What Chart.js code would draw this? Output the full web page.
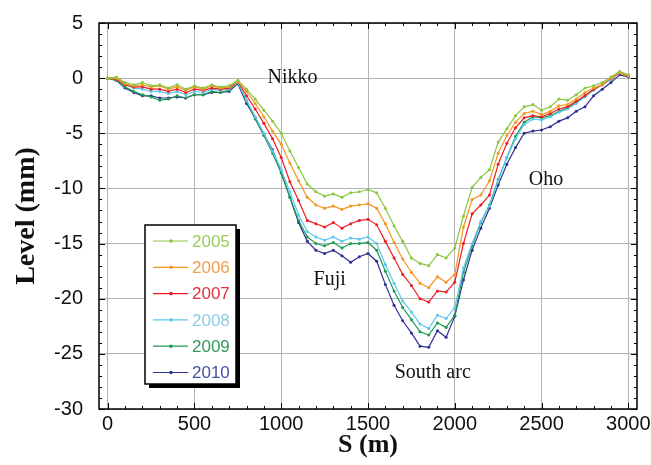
<!DOCTYPE html>
<html>
<head>
<meta charset="utf-8">
<script src="https://cdn.jsdelivr.net/npm/chart.js@4.4.1/dist/chart.umd.min.js"></script>
<style>
  body { margin: 0; background: #fff; }
  #wrap { width: 651px; height: 465px; }
</style>
</head>
<body>
<div id="wrap"><canvas id="levelChart" width="651" height="465"></canvas></div>
<script>
// distance along the ring (m)
const distances = [
  0, 50, 100, 150, 200, 250, 300, 350, 400, 450, 500, 550, 600, 650, 700, 750,
  800, 850, 900, 950, 1000, 1050, 1100, 1150, 1200, 1250, 1300, 1350, 1400, 1450, 1500,
  1550, 1600, 1650, 1700, 1750, 1800, 1850, 1900, 1950, 2000,
  2050, 2100, 2150, 2200, 2250, 2300, 2350, 2400, 2450, 2500, 2550, 2600, 2650, 2700,
  2750, 2800, 2850, 2900, 2950, 3000
];

const years = ["2005", "2006", "2007", "2008", "2009", "2010"];

// level (mm)
const level2005 = [
  0, 0.1, -0.4, -0.6, -0.4, -0.7, -0.6, -0.9, -0.6, -1.0, -0.7, -0.9, -0.6, -0.8, -0.7, -0.2,
  -1.0, -1.9, -2.9, -3.9, -5.0, -6.6, -8.1, -9.6, -10.3, -10.7, -10.5, -10.8, -10.4, -10.3, -10.1,
  -10.4, -11.8, -13.4, -14.8, -16.3, -16.8, -17.0, -16.0, -16.3, -15.4,
  -12.5, -9.9, -9.0, -8.3, -5.8, -4.6, -3.4, -2.6, -2.4, -2.9, -2.6, -1.9, -2.0, -1.5,
  -0.9, -0.7, -0.4, 0.1, 0.6, 0.3
];
const level2006 = [
  0, 0.0, -0.5, -0.7, -0.6, -0.8, -0.7, -1.0, -0.8, -1.1, -0.8, -1.0, -0.7, -0.9, -0.8, -0.3,
  -1.2, -2.3, -3.5, -4.8, -6.0, -7.7, -9.3, -10.8, -11.5, -11.8, -11.6, -11.9, -11.6, -11.5, -11.4,
  -11.8, -13.2, -14.9, -16.4, -17.6, -18.6, -19.0, -18.0, -18.5, -17.8,
  -13.5, -11.0, -10.6, -9.3, -6.8, -5.2, -4.0, -3.2, -3.0, -3.3, -3.0, -2.5, -2.4, -1.9,
  -1.3, -0.9, -0.6, 0.0, 0.5, 0.2
];
const level2007 = [
  0, -0.1, -0.6, -0.8, -0.8, -1.0, -1.0, -1.2, -1.0, -1.3, -1.0, -1.1, -0.9, -1.0, -0.9, -0.3,
  -1.6, -2.8, -4.1, -5.5, -7.2, -9.4, -11.1, -12.9, -13.2, -13.5, -13.1, -13.6, -13.2, -12.9, -12.8,
  -13.3, -14.8, -16.3, -17.8, -18.8, -20.0, -20.3, -19.3, -19.4, -18.5,
  -15.0, -12.3, -11.5, -10.6, -7.8, -5.9, -4.5, -3.6, -3.4, -3.5, -3.2, -2.8, -2.6, -2.1,
  -1.6, -1.0, -0.6, 0.0, 0.5, 0.2
];
const level2008 = [
  0, -0.1, -0.6, -0.9, -1.0, -1.2, -1.2, -1.4, -1.2, -1.5, -1.2, -1.3, -1.0, -1.1, -1.0, -0.4,
  -2.0, -3.5, -5.0, -6.6, -8.3, -10.3, -12.4, -13.9, -14.4, -14.7, -14.4, -14.8, -14.5, -14.6, -14.4,
  -15.0, -16.9, -18.6, -20.2, -21.2, -22.3, -22.7, -21.5, -21.8, -20.8,
  -17.2, -15.0, -13.0, -11.6, -9.3, -7.2, -5.5, -4.2, -3.7, -3.8, -3.5, -3.1, -2.8, -2.3,
  -1.7, -1.1, -0.6, -0.1, 0.5, 0.2
];
const level2009 = [
  0, -0.2, -0.8, -1.2, -1.5, -1.7, -2.0, -1.9, -1.6, -1.8, -1.5, -1.5, -1.2, -1.3, -1.1, -0.4,
  -2.1, -3.7, -5.2, -6.8, -8.6, -10.8, -12.9, -14.4, -15.0, -15.2, -14.9, -15.4, -15.0, -15.0, -14.9,
  -15.6, -17.5, -19.3, -20.8, -21.9, -23.0, -23.3, -22.2, -22.6, -21.5,
  -17.6, -15.2, -13.1, -11.5, -9.2, -7.2, -5.3, -4.0, -3.5, -3.6, -3.4, -3.0, -2.7, -2.2,
  -1.6, -1.0, -0.6, -0.1, 0.5, 0.2
];
const level2010 = [
  0, -0.2, -0.9, -1.3, -1.6, -1.6, -1.8, -1.8, -1.7, -1.8, -1.5, -1.5, -1.3, -1.3, -1.2, -0.5,
  -2.3, -3.6, -5.1, -6.5, -8.6, -10.8, -13.1, -14.8, -15.6, -15.9, -15.6, -16.1, -16.7, -16.2, -15.9,
  -16.6, -18.7, -20.6, -22.0, -23.1, -24.3, -24.4, -22.9, -23.5, -21.6,
  -18.3, -15.6, -13.6, -11.8, -9.7, -7.8, -6.3, -5.0, -4.8, -4.7, -4.4, -3.9, -3.6, -3.0,
  -2.6, -1.6, -1.0, -0.4, 0.3, 0.1
];

const xTicks = [0, 500, 1000, 1500, 2000, 2500, 3000];
const yTicks = [5, 0, -5, -10, -15, -20, -25, -30];

const places = ["Nikko", "Fuji", "South arc", "Oho"];
const placeS = [1065, 1279, 1873, 2526];
const placeLevel = [0, -18.3, -26.7, -9.2];

const seriesLevels = [level2005, level2006, level2007, level2008, level2009, level2010];
const lineColors = ["#8cc63f", "#f7941d", "#ed1c24", "#5bc8f0", "#1b9a50", "#2e3192"];
const textColors = ["#9acb5c", "#eea04e", "#e0303c", "#8ccde6", "#2f9a5c", "#4450a2"];

const datasets = years.map((yr, i) => ({
  label: yr,
  data: distances.map((s, j) => ({ x: s, y: seriesLevels[i][j] })),
  borderColor: lineColors[i],
  backgroundColor: lineColors[i],
  borderWidth: 1.2,
  pointRadius: 1.5,
  pointBorderWidth: 0,
  pointBackgroundColor: lineColors[i],
  tension: 0,
}));

// frame and inward ticks on all four sides
const framePlugin = {
  id: "frame",
  afterDraw(chart) {
    const { ctx, chartArea: a, scales } = chart;
    ctx.save();
    ctx.strokeStyle = "#000";
    ctx.lineWidth = 1;
    ctx.beginPath();
    for (let v = 0; v <= 3000; v += 100) {
      const px = Math.round(scales.x.getPixelForValue(v)) + 0.5;
      const len = v % 500 === 0 ? 6 : 3;
      ctx.moveTo(px, a.bottom); ctx.lineTo(px, a.bottom - len);
      ctx.moveTo(px, a.top); ctx.lineTo(px, a.top + len);
    }
    for (let v = -30; v <= 5; v += 1) {
      const py = Math.round(scales.y.getPixelForValue(v)) + 0.5;
      const len = v % 5 === 0 ? 6 : 3;
      ctx.moveTo(a.left, py); ctx.lineTo(a.left + len, py);
      ctx.moveTo(a.right, py); ctx.lineTo(a.right - len, py);
    }
    ctx.stroke();
    ctx.lineWidth = 1.5;
    ctx.strokeRect(a.left, a.top, a.right - a.left, a.bottom - a.top);
    ctx.restore();
  },
};

// place names
const placesPlugin = {
  id: "places",
  afterDatasetsDraw(chart) {
    const { ctx, scales } = chart;
    ctx.save();
    ctx.font = '20px "Liberation Serif"';
    ctx.fillStyle = "#111";
    ctx.textAlign = "center";
    ctx.textBaseline = "middle";
    places.forEach((name, i) => {
      ctx.fillText(name, scales.x.getPixelForValue(placeS[i]), scales.y.getPixelForValue(placeLevel[i]));
    });
    ctx.restore();
  },
};

// boxed legend inside the plot
const boxLegendPlugin = {
  id: "boxLegend",
  afterDraw(chart) {
    const ctx = chart.ctx;
    const left = 145, top = 225, w = 91, h = 159;
    ctx.save();
    ctx.fillStyle = "#000";
    ctx.fillRect(left + 4, top + 4, w, h);
    ctx.fillStyle = "#fff";
    ctx.fillRect(left, top, w, h);
    ctx.strokeStyle = "#000";
    ctx.lineWidth = 1.5;
    ctx.strokeRect(left, top, w, h);
    ctx.font = '17px "Liberation Sans"';
    ctx.textBaseline = "middle";
    ctx.textAlign = "left";
    years.forEach((yr, i) => {
      const y = top + 16 + i * 26.3;
      ctx.strokeStyle = lineColors[i];
      ctx.lineWidth = 1.2;
      ctx.beginPath();
      ctx.moveTo(left + 8, y);
      ctx.lineTo(left + 43, y);
      ctx.stroke();
      ctx.fillStyle = lineColors[i];
      ctx.beginPath();
      ctx.arc(left + 26, y, 1.8, 0, Math.PI * 2);
      ctx.fill();
      ctx.fillStyle = textColors[i];
      ctx.fillText(yr, left + 47, y + 1);
    });
    ctx.restore();
  },
};

const gridStyle = { color: "#b4b4b4", lineWidth: 1, drawTicks: false };

new Chart(document.getElementById("levelChart"), {
  type: "line",
  data: { datasets },
  plugins: [placesPlugin, framePlugin, boxLegendPlugin],
  options: {
    responsive: false,
    devicePixelRatio: 1,
    animation: false,
    layout: { padding: { top: 23, right: 14, left: 0, bottom: 0 } },
    plugins: { legend: { display: false }, tooltip: { enabled: false } },
    scales: {
      x: {
        type: "linear",
        min: -50,
        max: 3050,
        afterBuildTicks: (scale) => { scale.ticks = xTicks.map((v) => ({ value: v })); },
        afterFit: (scale) => { scale.height = 56; scale.paddingLeft = 0; scale.paddingRight = 0; },
        ticks: {
          font: { family: "Liberation Sans", size: 20 },
          color: "#111",
          padding: 3,
          maxRotation: 0,
          callback: (v) => String(v),
        },
        grid: gridStyle,
        border: { display: false },
        title: {
          display: true,
          text: "S (m)",
          font: { family: "Liberation Serif", size: 26, weight: "bold" },
          color: "#111",
          padding: { top: 0, bottom: 4 },
        },
      },
      y: {
        min: -30,
        max: 5,
        afterBuildTicks: (scale) => { scale.ticks = yTicks.map((v) => ({ value: v })); },
        afterFit: (scale) => { scale.width = 99; scale.paddingTop = 0; scale.paddingBottom = 0; },
        ticks: {
          font: { family: "Liberation Sans", size: 20 },
          color: "#111",
          padding: 16,
          callback: (v) => String(v),
        },
        grid: gridStyle,
        border: { display: false },
        title: {
          display: true,
          text: "Level (mm)",
          font: { family: "Liberation Serif", size: 28, weight: "bold" },
          color: "#111",
          padding: { top: 10, bottom: 0 },
        },
      },
    },
  },
});
</script>
</body>
</html>
